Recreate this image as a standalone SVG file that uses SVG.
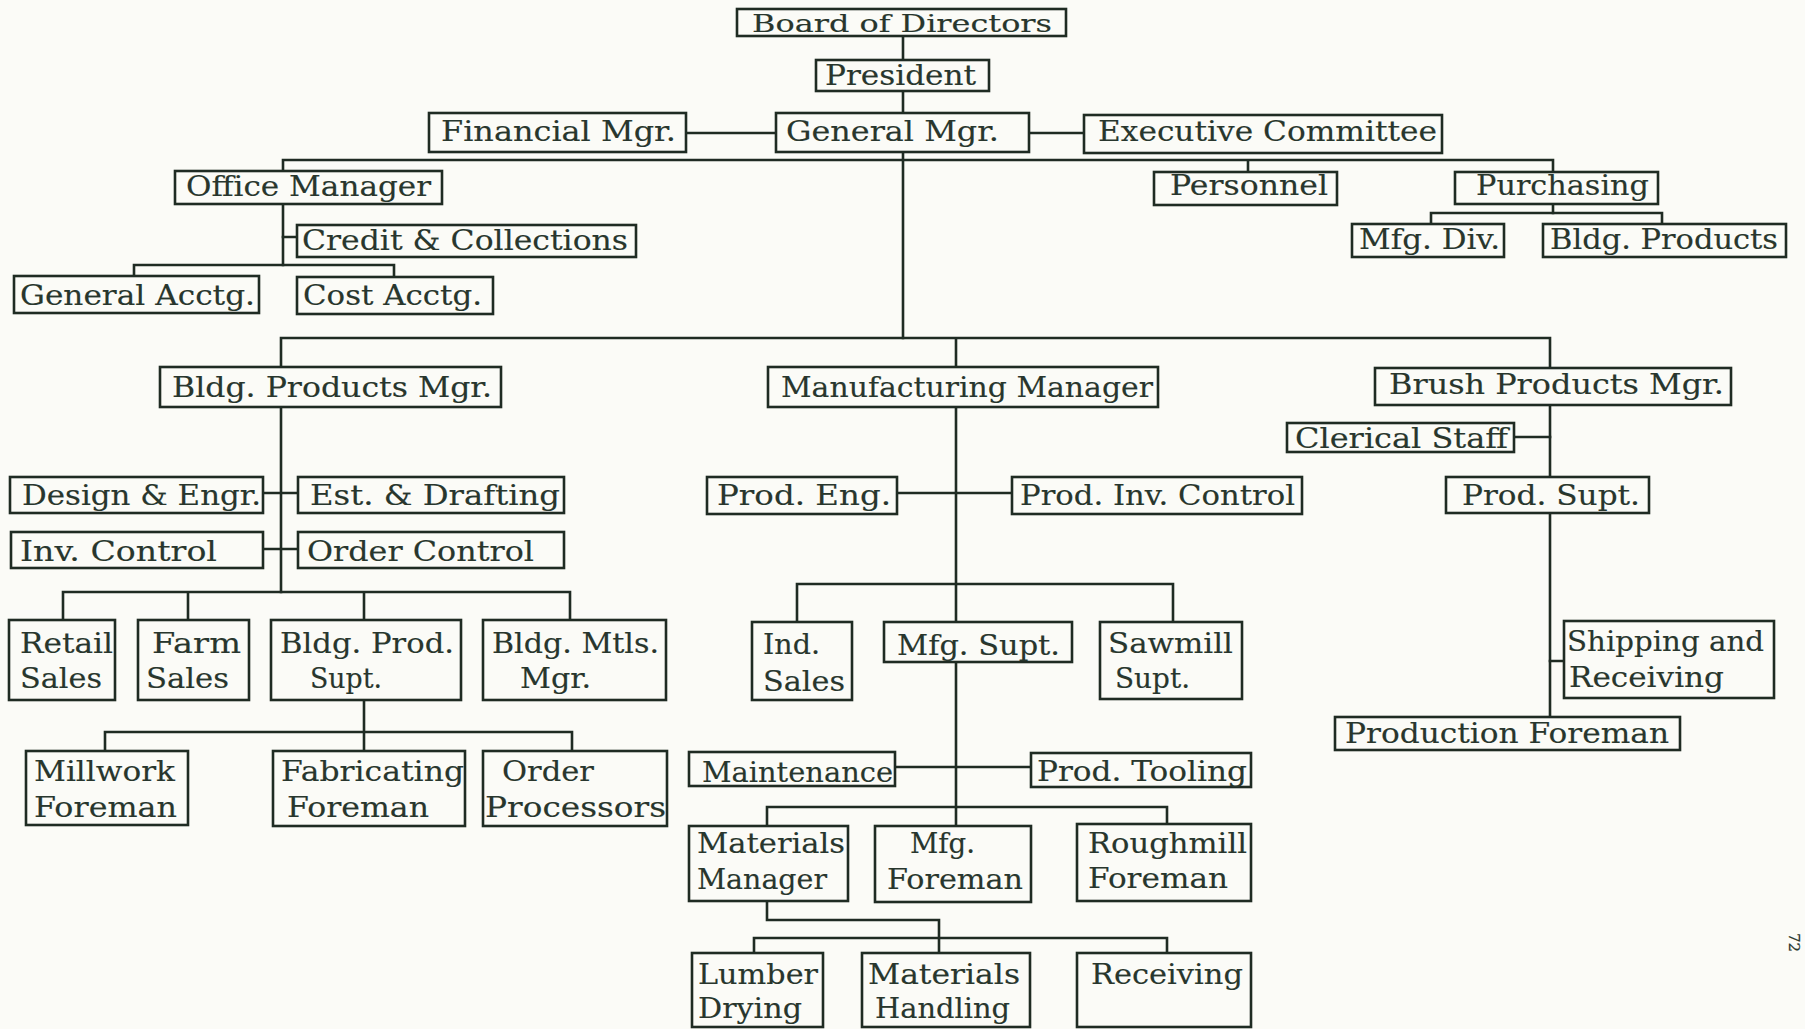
<svg xmlns="http://www.w3.org/2000/svg" width="1805" height="1029" viewBox="0 0 1805 1029">
<style>
.bg{fill:#fbfbf7}
.box{fill:#fbfbf7;stroke:#1f2b23;stroke-width:2.6}
.ln{fill:none;stroke:#1f2b23;stroke-width:2.6;stroke-linecap:square}
text{font-family:"DejaVu Serif","Liberation Serif",serif;font-size:27px;fill:#28362d;stroke:#28362d;stroke-width:0.15}
.sm{font-size:24px}
</style>
<rect class="bg" x="0" y="0" width="1805" height="1029"/>
<g id="connectors">
<path class="ln" d="M903 36V338"/>
<path class="ln" d="M686 133H776M1029 133H1084"/>
<path class="ln" d="M283 160H1553M283 160V265M1248 160V172M1553 160V213"/>
<path class="ln" d="M283 237H297M134 265H394M134 265V276M394 265V277"/>
<path class="ln" d="M1431 213H1662M1431 213V224M1662 213V224"/>
<path class="ln" d="M281 338H1550M281 338V592M956 338V826M1550 338V717"/>
<path class="ln" d="M263 493H298M263 549H298"/>
<path class="ln" d="M63 592H570M63 592V620M188 592V620M364 592V620M570 592V620"/>
<path class="ln" d="M364 700V732M105 732H572M105 732V751M364 732V751M572 732V751"/>
<path class="ln" d="M897 493H1012"/>
<path class="ln" d="M797 584H1173M797 584V622M1173 584V622"/>
<path class="ln" d="M895 767H1031"/>
<path class="ln" d="M767 807H1167M767 807V826M1167 807V824"/>
<path class="ln" d="M767 901V920H939V953M754 938H1167M754 938V953M1167 938V953"/>
<path class="ln" d="M1514 437H1550M1550 661H1564"/>
</g>
<g id="board"><rect class="box" x="737" y="9" width="329" height="27"/><text class="sm" x="752" y="32" textLength="300" lengthAdjust="spacingAndGlyphs">Board of Directors</text></g>
<g id="president"><rect class="box" x="816" y="60" width="173" height="31"/><text x="825" y="85" textLength="151" lengthAdjust="spacingAndGlyphs">President</text></g>
<g id="financial"><rect class="box" x="429" y="113" width="257" height="39"/><text x="441" y="141" textLength="235" lengthAdjust="spacingAndGlyphs">Financial Mgr.</text></g>
<g id="general"><rect class="box" x="776" y="113" width="253" height="39"/><text x="786" y="141" textLength="213" lengthAdjust="spacingAndGlyphs">General Mgr.</text></g>
<g id="executive"><rect class="box" x="1084" y="115" width="358" height="38"/><text x="1098" y="141" textLength="339" lengthAdjust="spacingAndGlyphs">Executive Committee</text></g>
<g id="office"><rect class="box" x="175" y="171" width="267" height="33"/><text x="186" y="196" textLength="245" lengthAdjust="spacingAndGlyphs">Office Manager</text></g>
<g id="personnel"><rect class="box" x="1154" y="172" width="183" height="33"/><text x="1170" y="195" textLength="158" lengthAdjust="spacingAndGlyphs">Personnel</text></g>
<g id="purchasing"><rect class="box" x="1455" y="172" width="203" height="32"/><text x="1476" y="195" textLength="173" lengthAdjust="spacingAndGlyphs">Purchasing</text></g>
<g id="credit"><rect class="box" x="297" y="225" width="339" height="32"/><text x="302" y="250" textLength="326" lengthAdjust="spacingAndGlyphs">Credit &amp; Collections</text></g>
<g id="mfgdiv"><rect class="box" x="1352" y="224" width="152" height="33"/><text x="1359" y="249" textLength="141" lengthAdjust="spacingAndGlyphs">Mfg. Div.</text></g>
<g id="bldgprod-purch"><rect class="box" x="1543" y="224" width="243" height="33"/><text x="1550" y="249" textLength="228" lengthAdjust="spacingAndGlyphs">Bldg. Products</text></g>
<g id="genacctg"><rect class="box" x="14" y="276" width="245" height="37"/><text x="20" y="305" textLength="235" lengthAdjust="spacingAndGlyphs">General Acctg.</text></g>
<g id="costacctg"><rect class="box" x="297" y="277" width="196" height="37"/><text x="303" y="305" textLength="179" lengthAdjust="spacingAndGlyphs">Cost Acctg.</text></g>
<g id="bldgmgr"><rect class="box" x="160" y="367" width="341" height="40"/><text x="172" y="397" textLength="320" lengthAdjust="spacingAndGlyphs">Bldg. Products Mgr.</text></g>
<g id="mfgmgr"><rect class="box" x="768" y="367" width="390" height="40"/><text x="781" y="397" textLength="372" lengthAdjust="spacingAndGlyphs">Manufacturing Manager</text></g>
<g id="brushmgr"><rect class="box" x="1375" y="368" width="356" height="37"/><text x="1389" y="394" textLength="335" lengthAdjust="spacingAndGlyphs">Brush Products Mgr.</text></g>
<g id="clerical"><rect class="box" x="1287" y="423" width="227" height="29"/><text x="1295" y="448" textLength="213" lengthAdjust="spacingAndGlyphs">Clerical Staff</text></g>
<g id="design"><rect class="box" x="10" y="477" width="253" height="36"/><text x="22" y="505" textLength="239" lengthAdjust="spacingAndGlyphs">Design &amp; Engr.</text></g>
<g id="estdraft"><rect class="box" x="298" y="477" width="266" height="36"/><text x="310" y="505" textLength="250" lengthAdjust="spacingAndGlyphs">Est. &amp; Drafting</text></g>
<g id="invcontrol"><rect class="box" x="11" y="532" width="252" height="36"/><text x="20" y="561" textLength="197" lengthAdjust="spacingAndGlyphs">Inv. Control</text></g>
<g id="ordercontrol"><rect class="box" x="298" y="532" width="266" height="36"/><text x="307" y="561" textLength="227" lengthAdjust="spacingAndGlyphs">Order Control</text></g>
<g id="prodeng"><rect class="box" x="707" y="477" width="190" height="37"/><text x="717" y="505" textLength="174" lengthAdjust="spacingAndGlyphs">Prod. Eng.</text></g>
<g id="prodinv"><rect class="box" x="1012" y="477" width="290" height="37"/><text x="1020" y="505" textLength="275" lengthAdjust="spacingAndGlyphs">Prod. Inv. Control</text></g>
<g id="prodsupt"><rect class="box" x="1446" y="477" width="203" height="36"/><text x="1462" y="505" textLength="178" lengthAdjust="spacingAndGlyphs">Prod. Supt.</text></g>
<g id="retail"><rect class="box" x="9" y="620" width="106" height="80"/><text x="20" y="653" textLength="93" lengthAdjust="spacingAndGlyphs">Retail</text><text x="20" y="688" textLength="82" lengthAdjust="spacingAndGlyphs">Sales</text></g>
<g id="farm"><rect class="box" x="138" y="620" width="111" height="80"/><text x="152" y="653" textLength="89" lengthAdjust="spacingAndGlyphs">Farm</text><text x="146" y="688" textLength="83" lengthAdjust="spacingAndGlyphs">Sales</text></g>
<g id="bldgsupt"><rect class="box" x="271" y="620" width="190" height="80"/><text x="280" y="653" textLength="174" lengthAdjust="spacingAndGlyphs">Bldg. Prod.</text><text x="310" y="688" textLength="72" lengthAdjust="spacingAndGlyphs">Supt.</text></g>
<g id="bldgmtls"><rect class="box" x="483" y="620" width="183" height="80"/><text x="492" y="653" textLength="167" lengthAdjust="spacingAndGlyphs">Bldg. Mtls.</text><text x="520" y="688" textLength="71" lengthAdjust="spacingAndGlyphs">Mgr.</text></g>
<g id="indsales"><rect class="box" x="752" y="622" width="100" height="78"/><text x="763" y="654" textLength="57" lengthAdjust="spacingAndGlyphs">Ind.</text><text x="763" y="691" textLength="82" lengthAdjust="spacingAndGlyphs">Sales</text></g>
<g id="mfgsupt"><rect class="box" x="884" y="622" width="188" height="40"/><text x="897" y="655" textLength="163" lengthAdjust="spacingAndGlyphs">Mfg.  Supt.</text></g>
<g id="sawmill"><rect class="box" x="1100" y="622" width="142" height="77"/><text x="1108" y="653" textLength="125" lengthAdjust="spacingAndGlyphs">Sawmill</text><text x="1115" y="688" textLength="75" lengthAdjust="spacingAndGlyphs">Supt.</text></g>
<g id="shipping"><rect class="box" x="1564" y="621" width="210" height="77"/><text x="1567" y="651" textLength="197" lengthAdjust="spacingAndGlyphs">Shipping and</text><text x="1569" y="687" textLength="155" lengthAdjust="spacingAndGlyphs">Receiving</text></g>
<g id="prodforeman"><rect class="box" x="1335" y="717" width="345" height="33"/><text x="1345" y="743" textLength="324" lengthAdjust="spacingAndGlyphs">Production Foreman</text></g>
<g id="millwork"><rect class="box" x="26" y="751" width="162" height="74"/><text x="34" y="781" textLength="141" lengthAdjust="spacingAndGlyphs">Millwork</text><text x="34" y="817" textLength="143" lengthAdjust="spacingAndGlyphs">Foreman</text></g>
<g id="fabricating"><rect class="box" x="273" y="751" width="192" height="75"/><text x="281" y="781" textLength="183" lengthAdjust="spacingAndGlyphs">Fabricating</text><text x="287" y="817" textLength="142" lengthAdjust="spacingAndGlyphs">Foreman</text></g>
<g id="orderproc"><rect class="box" x="483" y="751" width="184" height="75"/><text x="502" y="781" textLength="92" lengthAdjust="spacingAndGlyphs">Order</text><text x="485" y="817" textLength="181" lengthAdjust="spacingAndGlyphs">Processors</text></g>
<g id="maintenance"><rect class="box" x="689" y="752" width="206" height="34"/><text x="702" y="782" textLength="191" lengthAdjust="spacingAndGlyphs">Maintenance</text></g>
<g id="prodtooling"><rect class="box" x="1031" y="753" width="220" height="34"/><text x="1037" y="781" textLength="210" lengthAdjust="spacingAndGlyphs">Prod. Tooling</text></g>
<g id="matmgr"><rect class="box" x="689" y="826" width="159" height="75"/><text x="697" y="853" textLength="148" lengthAdjust="spacingAndGlyphs">Materials</text><text x="697" y="889" textLength="130" lengthAdjust="spacingAndGlyphs">Manager</text></g>
<g id="mfgforeman"><rect class="box" x="875" y="826" width="156" height="76"/><text x="910" y="853" textLength="65" lengthAdjust="spacingAndGlyphs">Mfg.</text><text x="887" y="889" textLength="136" lengthAdjust="spacingAndGlyphs">Foreman</text></g>
<g id="roughmill"><rect class="box" x="1077" y="824" width="174" height="77"/><text x="1088" y="853" textLength="159" lengthAdjust="spacingAndGlyphs">Roughmill</text><text x="1088" y="888" textLength="140" lengthAdjust="spacingAndGlyphs">Foreman</text></g>
<g id="lumber"><rect class="box" x="692" y="953" width="131" height="74"/><text x="698" y="984" textLength="120" lengthAdjust="spacingAndGlyphs">Lumber</text><text x="698" y="1018" textLength="104" lengthAdjust="spacingAndGlyphs">Drying</text></g>
<g id="mathandling"><rect class="box" x="862" y="953" width="168" height="74"/><text x="868" y="984" textLength="152" lengthAdjust="spacingAndGlyphs">Materials</text><text x="875" y="1018" textLength="135" lengthAdjust="spacingAndGlyphs">Handling</text></g>
<g id="receiving"><rect class="box" x="1077" y="953" width="174" height="74"/><text x="1091" y="984" textLength="152" lengthAdjust="spacingAndGlyphs">Receiving</text></g>
<text x="1789" y="933" style="font-size:15px;stroke-width:0.2" transform="rotate(90 1789 933)">72</text>
</svg>
